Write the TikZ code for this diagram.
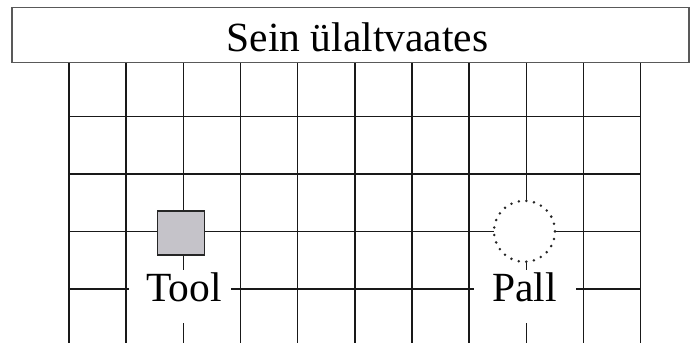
\documentclass[tikz,border=0pt]{standalone}
\usepackage{fontspec}
\setmainfont{Liberation Serif}
\begin{document}
\begin{tikzpicture}[x=1pt,y=-1pt,
  gridline/.style={line width=1.45pt,black!90},
  wallbox/.style={draw=black!65,line width=1.8pt,fill=white},
  toolbox/.style={draw=black!85,line width=1.4pt,fill=toolgray},
  ballring/.style={draw=black!85,fill=white,line width=2.8pt,line cap=round,dash pattern=on 0pt off 7.66pt},
  labelbox/.style={fill=white,inner sep=0pt,minimum width=102pt,minimum height=53pt},
  bigtext/.style={anchor=base,font=\fontsize{41.5}{41.5}\selectfont}]
\definecolor{toolgray}{HTML}{C5C3C9}
\useasboundingbox (0,0) rectangle (690,343);
% grid
\foreach \i in {0,...,10}
  \draw[gridline] ({69+57.17*\i},63) -- ({69+57.17*\i},343);
\foreach \j in {0,...,3}
  \draw[gridline] (69,{116.3+57.5*\j}) -- (640.7,{116.3+57.5*\j});
% wall seen from above
\node[wallbox,minimum width=677pt,minimum height=55pt,inner sep=0pt] (wall) at (350.5,35) {};
\node[bigtext] (walltext) at (357.5,51) {Sein ülaltvaates};
% chair and ball
\node[toolbox,minimum width=47pt,minimum height=44pt,inner sep=0pt] (tool) at (181,233) {};
\node[ballring,circle,minimum size=61pt,inner sep=0pt] (ball) at (524.5,231.3) {};
% labels
\node[labelbox] (toolbg) at (180,296.5) {};
\node[labelbox] (pallbg) at (524.5,296.5) {};
\node[bigtext] (tooltext) at (184,301) {Tool};
\node[bigtext] (palltext) at (524.5,301) {Pall};
\end{tikzpicture}
\end{document}
